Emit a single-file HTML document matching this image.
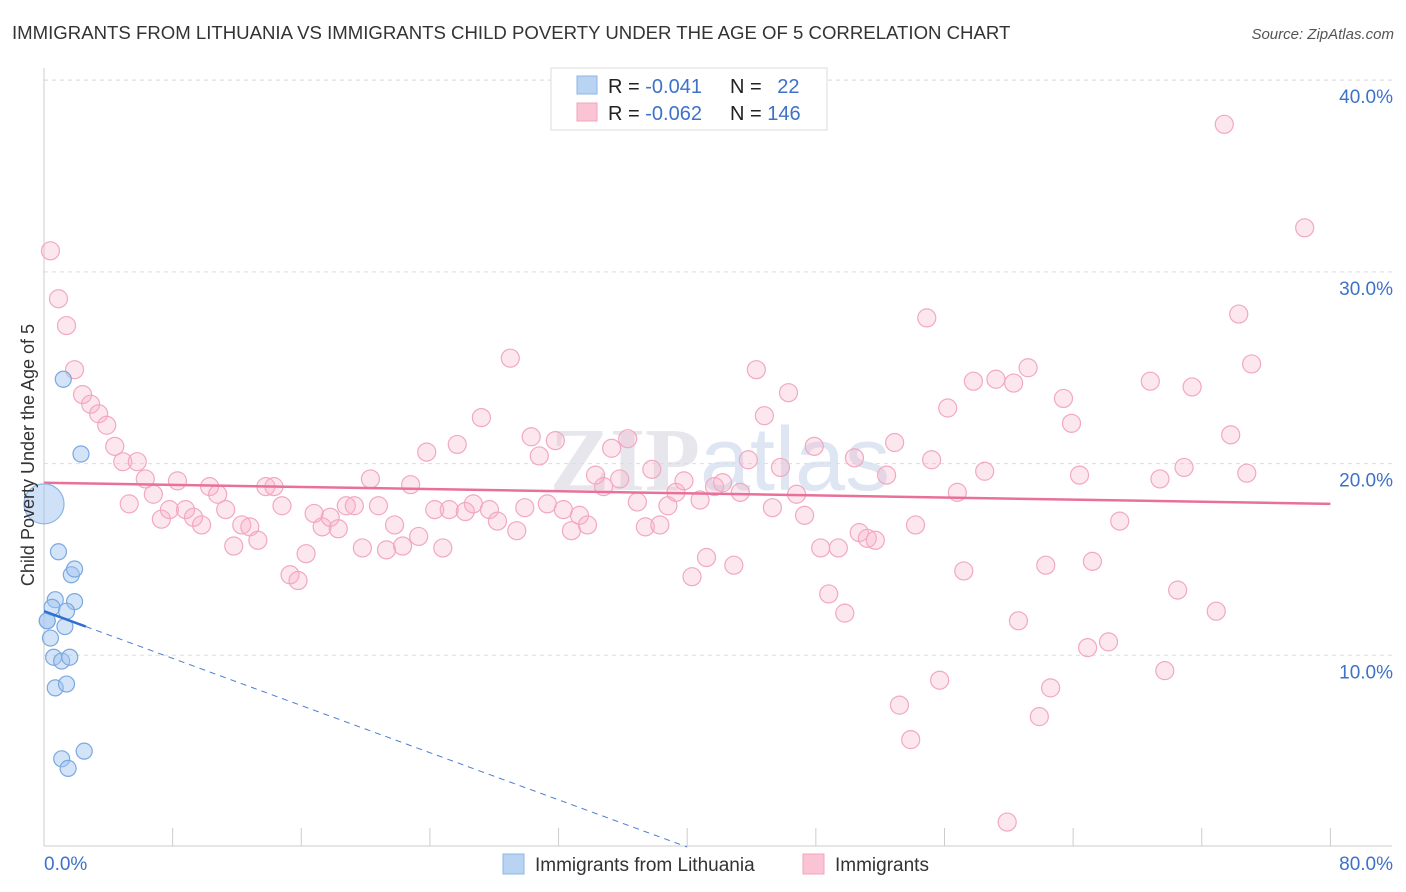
<!DOCTYPE html>
<html><head><meta charset="utf-8">
<style>
body{margin:0;background:#fff;font-family:"Liberation Sans",sans-serif;}
#wrap{position:relative;width:1406px;height:892px;overflow:hidden;}
</style></head>
<body>
<div id="wrap">
<svg id="svg" width="1406" height="892" xmlns="http://www.w3.org/2000/svg">
<text x="12" y="39" font-size="18.6" fill="#333">IMMIGRANTS FROM LITHUANIA VS IMMIGRANTS CHILD POVERTY UNDER THE AGE OF 5 CORRELATION CHART</text>
<text x="1394" y="39" font-size="15" fill="#555" font-style="italic" text-anchor="end">Source: ZipAtlas.com</text>
<text x="720" y="490" font-size="90" fill="#e6e6ec" text-anchor="middle" font-family="Liberation Serif,serif" font-weight="bold">ZIP<tspan font-family="Liberation Sans,sans-serif" font-weight="normal" fill="#dde6f2">atlas</tspan></text>
<g id="grid"></g>
<g id="axes"></g>
<g id="marks"></g>
<text transform="translate(34,455) rotate(-90)" font-size="18" fill="#333" text-anchor="middle">Child Poverty Under the Age of 5</text>
<g>
<rect x="551" y="68" width="276" height="62" fill="#fff" stroke="#ddd"/>
<rect x="577" y="76" width="20" height="18" fill="#b9d3f3" stroke="#8db4e6"/>
<rect x="577" y="103" width="20" height="18" fill="#fac4d4" stroke="#f0a5bd"/>
<text x="608" y="93" font-size="20" fill="#222">R = <tspan fill="#3d72c8">-0.041</tspan></text>
<text x="730" y="93" font-size="20" fill="#222">N = <tspan fill="#3d72c8" dx="10">22</tspan></text>
<text x="608" y="120" font-size="20" fill="#222">R = <tspan fill="#3d72c8">-0.062</tspan></text>
<text x="730" y="120" font-size="20" fill="#222">N = <tspan fill="#3d72c8">146</tspan></text>
</g>
<g>
<rect x="503" y="854" width="21" height="20" fill="#b9d3f3" stroke="#8db4e6"/>
<text x="535" y="871" font-size="19" fill="#333">Immigrants from Lithuania</text>
<rect x="803" y="854" width="21" height="20" fill="#fac4d4" stroke="#f0a5bd"/>
<text x="835" y="871" font-size="19" fill="#333">Immigrants</text>
</g>
</svg>
</div>
<script>
const xTicks=[0,8,16,24,32,40,48,56,64,72,80];
const yTicks=[10,20,30,40];
const yTickLabels=["10.0%","20.0%","30.0%","40.0%"];
const xEndLabels=["0.0%","80.0%"];
const pinkX=[0.4,0.9,1.4,1.9,2.4,2.9,3.4,3.9,4.4,4.9,5.3,5.8,6.3,6.8,7.3,7.8,8.3,8.8,9.3,9.8,10.3,10.8,11.3,11.8,12.3,12.8,13.3,13.8,14.3,14.8,15.3,15.8,16.3,16.8,17.3,17.8,18.3,18.8,19.3,19.8,20.3,20.8,21.3,21.8,22.3,22.8,23.3,23.8,24.3,24.8,25.2,25.7,26.2,26.7,27.2,27.7,28.2,29.0,29.4,29.9,30.3,30.8,31.3,31.8,32.3,32.8,33.3,33.8,34.3,34.8,35.3,35.8,36.3,36.9,37.4,37.8,38.3,38.8,39.3,39.8,40.3,40.8,41.2,41.7,42.2,42.9,43.3,43.8,44.3,44.8,45.3,45.8,46.3,46.8,47.3,47.9,48.3,48.8,49.4,49.8,50.4,50.7,51.2,51.7,52.4,52.9,53.2,53.9,54.2,54.9,55.2,55.7,56.2,56.8,57.2,57.8,58.5,59.2,59.9,60.3,60.6,61.2,61.9,62.3,62.6,63.4,63.9,64.4,64.9,65.2,66.2,66.9,68.8,69.4,69.7,70.5,70.9,71.4,72.9,73.4,73.8,74.3,74.8,75.1,78.4];
const pinkY=[31.1,28.6,27.2,24.9,23.6,23.1,22.6,22.0,20.9,20.1,17.9,20.1,19.2,18.4,17.1,17.6,19.1,17.6,17.2,16.8,18.8,18.4,17.6,15.7,16.8,16.7,16.0,18.8,18.8,17.8,14.2,13.9,15.3,17.4,16.7,17.2,16.6,17.8,17.8,15.6,19.2,17.8,15.5,16.8,15.7,18.9,16.2,20.6,17.6,15.6,17.6,21.0,17.5,17.9,22.4,17.6,17.0,25.5,16.5,17.7,21.4,20.4,17.9,21.2,17.6,16.5,17.3,16.8,19.4,18.8,20.8,19.2,21.3,18.0,16.7,19.7,16.8,17.8,18.5,19.1,14.1,18.1,15.1,18.8,19.0,14.7,18.5,20.2,24.9,22.5,17.7,19.8,23.7,18.4,17.3,20.9,15.6,13.2,15.6,12.2,20.3,16.4,16.1,16.0,19.4,21.1,7.4,5.6,16.8,27.6,20.2,8.7,22.9,18.5,14.4,24.3,19.6,24.4,1.3,24.2,11.8,25.0,6.8,14.7,8.3,23.4,22.1,19.4,10.4,14.9,10.7,17.0,24.3,19.2,9.2,13.4,19.8,24.0,12.3,37.7,21.5,27.8,19.5,25.2,32.3];
const blueX=[1.2,2.3,0.9,0.7,1.7,1.9,1.9,0.5,1.4,0.2,0.4,1.3,0.6,1.1,1.6,0.7,1.4,1.1,1.5,2.5,0.2];
const blueY=[24.4,20.5,15.4,12.9,14.2,14.5,12.8,12.5,12.3,11.8,10.9,11.5,9.9,9.7,9.9,8.3,8.5,4.6,4.1,5.0,11.8];
const bigBlue=[0,17.9];
const pinkTrend=[19.0,17.9];
const blueTrend=[12.3,-0.3075];

const X=v=>44+v*16.08;
const Y=v=>847-v*19.17;
const NS="http://www.w3.org/2000/svg";
function mk(tag,attrs,parent){const e=document.createElementNS(NS,tag);for(const k in attrs)e.setAttribute(k,attrs[k]);parent.appendChild(e);return e;}
const gridG=document.getElementById('grid'),axesG=document.getElementById('axes'),marksG=document.getElementById('marks');
yTicks.forEach((t,i)=>{
  const l=mk('line',{x1:44,x2:1392,y1:Y(t),y2:Y(t),stroke:'#ddd','stroke-dasharray':'4,4'},gridG);
  
  
  const tx=mk('text',{x:1393,y:Y(t)+23,'font-size':19,fill:'#3d72c8','text-anchor':'end'},axesG);
  tx.textContent=yTickLabels[i];
  
  
});
const topGrid=mk('line',{x1:44,x2:1392,y1:80,y2:80,stroke:'#ddd','stroke-dasharray':'4,4'},gridG);


const ya=mk('line',{x1:44,x2:44,y1:68,y2:846,stroke:'#ccc'},axesG);


const xa=mk('line',{x1:44,x2:1392,y1:846,y2:846,stroke:'#ccc'},axesG);


xTicks.forEach(t=>{
  const l=mk('line',{x1:X(t),x2:X(t),y1:828,y2:846,stroke:'#ccc'},axesG);
  
  
});
const xl0=mk('text',{x:44,y:870,'font-size':19,fill:'#3d72c8'},axesG);
xl0.textContent=xEndLabels[0];


const xl1=mk('text',{x:1393,y:870,'font-size':19,fill:'#3d72c8','text-anchor':'end'},axesG);
xl1.textContent=xEndLabels[1];



pinkX.forEach((x,i)=>{
  const c=mk('circle',{cx:X(x),cy:Y(pinkY[i]),r:9,fill:'rgba(248,175,198,0.3)',stroke:'#f2a8c0','stroke-width':1.2},marksG);
  
  
});
const pt=mk('line',{x1:X(0),y1:Y(pinkTrend[0]),x2:X(80),y2:Y(pinkTrend[1]),stroke:'#e8709a','stroke-width':2.5},marksG);


const bb=mk('circle',{cx:X(bigBlue[0]),cy:Y(bigBlue[1]),r:20,fill:'rgba(160,195,240,0.5)',stroke:'#8db4e6','stroke-width':1.2},marksG);


blueX.forEach((x,i)=>{
  const c=mk('circle',{cx:X(x),cy:Y(blueY[i]),r:8,fill:'rgba(160,195,240,0.45)',stroke:'#7aa8e0','stroke-width':1.2},marksG);
  
  
});
const xEnd=-blueTrend[0]/blueTrend[1];
const bd=mk('line',{x1:X(2.6),y1:Y(blueTrend[0]+blueTrend[1]*2.6),x2:X(xEnd),y2:Y(0),stroke:'#4a7fd0','stroke-width':1,'stroke-dasharray':'6,5'},marksG);


const bs=mk('line',{x1:X(0),y1:Y(blueTrend[0]),x2:X(2.6),y2:Y(blueTrend[0]+blueTrend[1]*2.6),stroke:'#2f6fd0','stroke-width':2.5},marksG);


</script>
</body></html>
